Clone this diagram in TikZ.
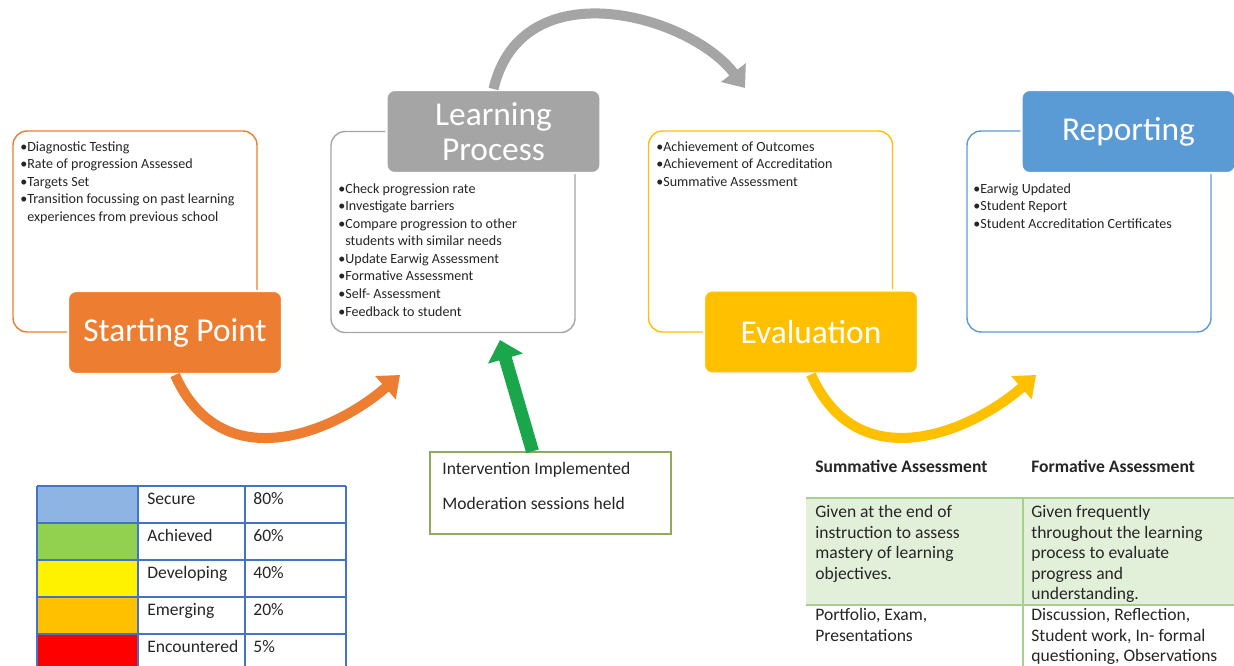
\documentclass[tikz,border=0pt]{standalone}
\usepackage{fontspec}
\setmainfont{Carlito}
\usetikzlibrary{arrows.meta,positioning}

\definecolor{startorange}{HTML}{ED7D31}
\definecolor{learngray}{HTML}{A5A5A5}
\definecolor{evalyellow}{HTML}{FFC000}
\definecolor{reportblue}{HTML}{5B9BD5}
\definecolor{legendblue}{HTML}{4472C4}
\definecolor{secureblue}{HTML}{8EB4E3}
\definecolor{achievedgreen}{HTML}{92D050}
\definecolor{arrowgreen}{RGB}{26,166,74}
\definecolor{boxgreen}{HTML}{8FAA5C}
\definecolor{rowgreen}{HTML}{E2EFD9}
\definecolor{linegreen}{HTML}{A8D08D}

\begin{document}
\begin{tikzpicture}[x=0.02cm, y=-0.02cm,
    stageframe/.style={rectangle, draw, rounded corners=0.28cm, line width=0.8pt, minimum width=4.88cm, minimum height=4.02cm},
    titlebox/.style={rectangle, rounded corners=0.16cm, draw=white, line width=1.2pt, text=white, align=center, font=\fontsize{19}{20}\selectfont, minimum width=4.28cm, minimum height=1.66cm},
    listtext/.style={anchor=north west, inner sep=0pt, align=left, text=black!85, font=\fontsize{8}{10}\selectfont},
    bigarrow/.style={line width=5.7pt, -{Triangle[length=11pt, width=17pt]}},
    legendtext/.style={anchor=base west, inner sep=0pt, text=black!85, font=\fontsize{10}{12}\selectfont},
    legendline/.style={legendblue, line width=1.1pt},
    headtext/.style={anchor=base west, inner sep=0pt, text=black!85, font=\fontsize{10}{12}\selectfont\bfseries},
    celltext/.style={anchor=north west, inner sep=0pt, align=left, text=black!85, font=\fontsize{10}{11.7}\selectfont},
    tableline/.style={linegreen, line width=1.1pt}]
    \useasboundingbox[fill=white] (0,0) rectangle (1234,666);

    % Frames
    \node (startframe) [stageframe, draw=startorange] at (135,231.5) {};
    \node (learnframe) [stageframe, draw=learngray] at (453,232) {};
    \node (evalframe) [stageframe, draw=evalyellow] at (770.5,231.5) {};
    \node (reportframe) [stageframe, draw=reportblue] at (1089,231.5) {};

    % Lists
    \node (startlist) [listtext] at (20,141) {•Diagnostic Testing\\•Rate of progression Assessed\\•Targets Set\\•Transition focussing on past learning\\\phantom{•}experiences from previous school};
    \node (learnlist) [listtext] at (338,183) {•Check progression rate\\•Investigate barriers\\•Compare progression to other\\\phantom{•}students with similar needs\\•Update Earwig Assessment\\•Formative Assessment\\•Self- Assessment\\•Feedback to student};
    \node (evallist) [listtext] at (656,141) {•Achievement of Outcomes\\•Achievement of Accreditation\\•Summative Assessment};
    \node (reportlist) [listtext] at (973,183) {•Earwig Updated\\•Student Report\\•Student Accreditation Certificates};

    % Titles
    \node (start) [titlebox, fill=startorange] at (175,332.5) {Starting Point};
    \node (learn) [titlebox, fill=learngray] at (493.5,131.5) {Learning\\Process};
    \node (eval) [titlebox, fill=evalyellow] at (811,332) {Evaluation};
    \node (report) [titlebox, fill=reportblue] at (1128.5,131.5) {Reporting};

    % Arrows
    \coordinate (learnin) at (400,375);
    \coordinate (evalin) at (745,88);
    \coordinate (reportin) at (1036,375);
    \coordinate (feedback) at (500,340);
    \draw[bigarrow, startorange] (start.south) .. controls (222,480) and (335,432) .. (learnin);
    \draw[bigarrow, learngray] (learn.north) .. controls (522,-32) and (690,15) .. (evalin);
    \draw[bigarrow, evalyellow] (eval.south) .. controls (858,480) and (971,432) .. (reportin);

    % Intervention
    \node (interv) [rectangle, draw=boxgreen, line width=0.8pt, minimum width=4.82cm, minimum height=1.64cm] at (550.5,493) {};
    \node (intervdone) [legendtext] at (442,474.5) {Intervention Implemented};
    \node (moderation) [legendtext] at (442,509.5) {Moderation sessions held};
    \draw[arrowgreen, line width=7.4pt, -{Triangle[length=11pt, width=20pt]}] ([xshift=-0.36cm]interv.north) -- (feedback);

    % Legend
    \foreach \lbl/\pct/\col [count=\i from 0] in {Secure/80\%/secureblue, Achieved/60\%/achievedgreen, Developing/40\%/yellow, Emerging/20\%/evalyellow, Encountered/5\%/red} {
        \fill[\col] (37,{486+37*\i}) rectangle (138,{523+37*\i});
        \node (level\i) [legendtext] at (147,{504.5+37*\i}) {\lbl};
        \node (pct\i) [legendtext] at (253,{504.5+37*\i}) {\pct};
    }
    \foreach \r in {0,...,4}
        \draw[legendline] (37,{486+37*\r}) -- (346,{486+37*\r});
    \foreach \c in {37,138,245,346}
        \draw[legendline] (\c,486) -- (\c,670);

    % Assessment table
    \fill[rowgreen] (806,498) rectangle (1234,605);
    \draw[tableline] (806,498) -- (1234,498);
    \draw[tableline] (806,605) -- (1234,605);
    \draw[tableline] (1023,498) -- (1023,670);
    \node (sumhead) [headtext] at (815,472.5) {Summative Assessment};
    \node (formhead) [headtext] at (1031,472.5) {Formative Assessment};
    \node (sumwhen) [celltext] at (815,505) {Given at the end of\\instruction to assess\\mastery of learning\\objectives.};
    \node (formwhen) [celltext] at (1031,505) {Given frequently\\throughout the learning\\process to evaluate\\progress and\\understanding.};
    \node (sumhow) [celltext] at (815,608) {Portfolio, Exam,\\Presentations};
    \node (formhow) [celltext] at (1031,608) {Discussion, Reflection,\\Student work, In- formal\\questioning, Observations};
\end{tikzpicture}
\end{document}
